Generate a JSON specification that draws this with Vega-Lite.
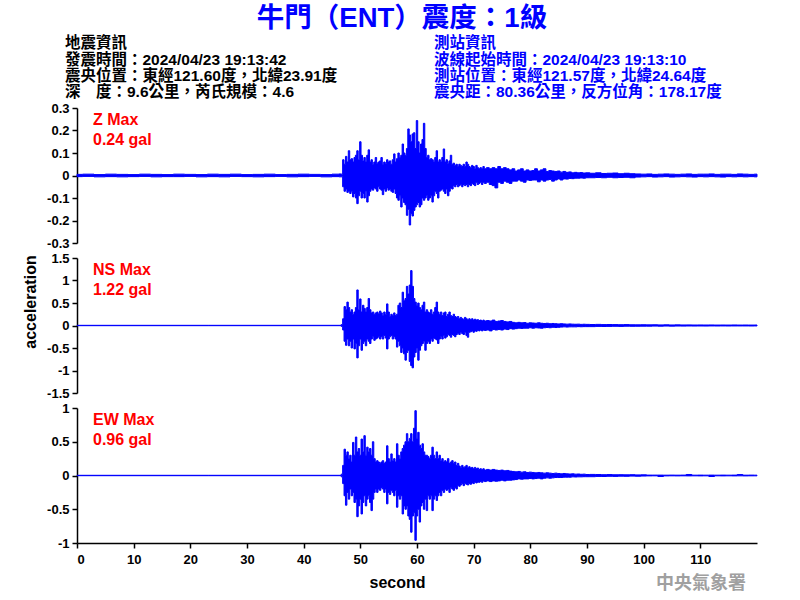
{
"$schema": "https://vega.github.io/schema/vega-lite/v6.json",
"padding": {"left": 22, "top": 4, "right": 5, "bottom": 5},
"config": {
 "view": {"stroke": null},
 "axis": {"labelFont": "Liberation Sans", "labelFontSize": 13, "labelFontWeight": "bold", "labelColor": "black", "domainColor": "black", "tickColor": "black", "domainWidth": 1.5, "tickWidth": 1.5, "tickSize": 5, "labelPadding": 3, "grid": false, "titleFont": "Liberation Sans", "titleFontSize": 16, "titleFontWeight": "bold", "titleColor": "black"}
},
"datasets": {
"z": [
{"t":0,"lo":-0.005,"hi":0.005},{"t":2,"lo":-0.004,"hi":0.006},{"t":4,"lo":-0.006,"hi":0.004},{"t":6,"lo":-0.005,"hi":0.006},{"t":8,"lo":-0.006,"hi":0.005},{"t":10,"lo":-0.005,"hi":0.004},{"t":12,"lo":-0.004,"hi":0.006},{"t":14,"lo":-0.006,"hi":0.005},{"t":16,"lo":-0.005,"hi":0.004},{"t":18,"lo":-0.005,"hi":0.006},{"t":20,"lo":-0.004,"hi":0.005},{"t":22,"lo":-0.006,"hi":0.004},{"t":24,"lo":-0.005,"hi":0.006},{"t":26,"lo":-0.006,"hi":0.005},{"t":28,"lo":-0.004,"hi":0.006},{"t":30,"lo":-0.005,"hi":0.004},{"t":32,"lo":-0.006,"hi":0.005},{"t":34,"lo":-0.005,"hi":0.006},{"t":36,"lo":-0.004,"hi":0.004},{"t":38,"lo":-0.006,"hi":0.005},{"t":40,"lo":-0.005,"hi":0.006},{"t":42,"lo":-0.004,"hi":0.005},{"t":44,"lo":-0.006,"hi":0.004},{"t":46,"lo":-0.005,"hi":0.006},{"t":46.5,"lo":-0.006,"hi":0.007},
{"t":46.75,"lo":-0.006,"hi":0.006},{"t":47,"lo":-0.05,"hi":0.07},{"t":47.25,"lo":-0.07,"hi":0.05},{"t":47.5,"lo":-0.06,"hi":0.085},{"t":47.75,"lo":-0.075,"hi":0.06},{"t":48,"lo":-0.07,"hi":0.11},{"t":48.25,"lo":-0.08,"hi":0.07},{"t":48.5,"lo":-0.07,"hi":0.075},{"t":48.75,"lo":-0.095,"hi":0.06},{"t":49,"lo":-0.08,"hi":0.08},{"t":49.25,"lo":-0.1,"hi":0.09},{"t":49.5,"lo":-0.125,"hi":0.11},{"t":49.75,"lo":-0.09,"hi":0.07},{"t":50,"lo":-0.07,"hi":0.15},{"t":50.25,"lo":-0.1,"hi":0.09},{"t":50.5,"lo":-0.08,"hi":0.065},{"t":50.75,"lo":-0.1,"hi":0.08},{"t":51,"lo":-0.07,"hi":0.06},{"t":51.25,"lo":-0.118,"hi":0.09},{"t":51.5,"lo":-0.09,"hi":0.114},{"t":51.75,"lo":-0.07,"hi":0.06},{"t":52,"lo":-0.06,"hi":0.07},{"t":52.25,"lo":-0.065,"hi":0.05},{"t":52.5,"lo":-0.055,"hi":0.06},{"t":52.75,"lo":-0.06,"hi":0.08},{"t":53,"lo":-0.07,"hi":0.055},{"t":53.25,"lo":-0.05,"hi":0.06},{"t":53.5,"lo":-0.06,"hi":0.065},{"t":53.75,"lo":-0.065,"hi":0.08},{"t":54,"lo":-0.085,"hi":0.05},{"t":54.25,"lo":-0.06,"hi":0.06},{"t":54.5,"lo":-0.07,"hi":0.055},{"t":54.75,"lo":-0.055,"hi":0.07},{"t":55,"lo":-0.065,"hi":0.06},{"t":55.25,"lo":-0.06,"hi":0.065},{"t":55.5,"lo":-0.07,"hi":0.05},{"t":55.75,"lo":-0.075,"hi":0.07},{"t":56,"lo":-0.06,"hi":0.096},{"t":56.25,"lo":-0.08,"hi":0.06},{"t":56.5,"lo":-0.1,"hi":0.075},{"t":56.75,"lo":-0.11,"hi":0.1},{"t":57,"lo":-0.09,"hi":0.08},{"t":57.25,"lo":-0.14,"hi":0.09},{"t":57.5,"lo":-0.1,"hi":0.14},{"t":57.75,"lo":-0.12,"hi":0.1},{"t":58,"lo":-0.13,"hi":0.09},{"t":58.25,"lo":-0.177,"hi":0.12},{"t":58.5,"lo":-0.15,"hi":0.207},{"t":58.75,"lo":-0.22,"hi":0.18},{"t":59,"lo":-0.17,"hi":0.15},{"t":59.25,"lo":-0.18,"hi":0.185},{"t":59.5,"lo":-0.155,"hi":0.19},{"t":59.75,"lo":-0.14,"hi":0.12},{"t":60,"lo":-0.13,"hi":0.244},{"t":60.25,"lo":-0.12,"hi":0.15},{"t":60.5,"lo":-0.14,"hi":0.1},{"t":60.75,"lo":-0.13,"hi":0.14},{"t":61,"lo":-0.1,"hi":0.16},{"t":61.25,"lo":-0.11,"hi":0.232},{"t":61.5,"lo":-0.1,"hi":0.12},{"t":61.75,"lo":-0.09,"hi":0.08},{"t":62,"lo":-0.11,"hi":0.09},{"t":62.25,"lo":-0.1,"hi":0.07},{"t":62.5,"lo":-0.09,"hi":0.075},{"t":62.75,"lo":-0.118,"hi":0.07},{"t":63,"lo":-0.09,"hi":0.06},{"t":63.25,"lo":-0.07,"hi":0.08},{"t":63.5,"lo":-0.08,"hi":0.11},{"t":63.75,"lo":-0.1,"hi":0.06},{"t":64,"lo":-0.07,"hi":0.07},{"t":64.25,"lo":-0.065,"hi":0.06},{"t":64.5,"lo":-0.06,"hi":0.08},{"t":64.75,"lo":-0.07,"hi":0.118},{"t":65,"lo":-0.08,"hi":0.06},{"t":65.25,"lo":-0.06,"hi":0.07},{"t":65.5,"lo":-0.09,"hi":0.055},{"t":65.75,"lo":-0.07,"hi":0.065},{"t":66,"lo":-0.055,"hi":0.09},{"t":66.25,"lo":-0.06,"hi":0.05},{"t":66.5,"lo":-0.045,"hi":0.055},{"t":66.75,"lo":-0.05,"hi":0.045},{"t":67,"lo":-0.04,"hi":0.05},{"t":67.25,"lo":-0.05,"hi":0.04},{"t":67.5,"lo":-0.045,"hi":0.05},{"t":67.75,"lo":-0.04,"hi":0.045},{"t":68,"lo":-0.05,"hi":0.04},{"t":68.25,"lo":-0.04,"hi":0.05},{"t":68.5,"lo":-0.045,"hi":0.04},{"t":68.75,"lo":-0.04,"hi":0.06},{"t":69,"lo":-0.05,"hi":0.05},{"t":69.25,"lo":-0.04,"hi":0.04},{"t":69.5,"lo":-0.045,"hi":0.035},{"t":69.75,"lo":-0.035,"hi":0.045},{"t":70,"lo":-0.04,"hi":0.04},{"t":70.25,"lo":-0.045,"hi":0.03},{"t":70.5,"lo":-0.03,"hi":0.045},{"t":70.75,"lo":-0.04,"hi":0.035},{"t":71,"lo":-0.035,"hi":0.03},{"t":71.25,"lo":-0.03,"hi":0.035},{"t":71.5,"lo":-0.04,"hi":0.03},{"t":71.75,"lo":-0.03,"hi":0.04},{"t":72,"lo":-0.035,"hi":0.03},
{"t":72.5,"lo":-0.03,"hi":0.035},{"t":73,"lo":-0.04,"hi":0.03},{"t":73.5,"lo":-0.045,"hi":0.035},{"t":74,"lo":-0.055,"hi":0.03},{"t":74.5,"lo":-0.03,"hi":0.04},{"t":75,"lo":-0.035,"hi":0.03},{"t":75.5,"lo":-0.025,"hi":0.035},{"t":76,"lo":-0.03,"hi":0.03},{"t":76.5,"lo":-0.035,"hi":0.025},{"t":77,"lo":-0.025,"hi":0.03},{"t":77.5,"lo":-0.025,"hi":0.02},{"t":78,"lo":-0.02,"hi":0.025},{"t":78.5,"lo":-0.025,"hi":0.03},{"t":79,"lo":-0.03,"hi":0.02},{"t":79.5,"lo":-0.02,"hi":0.025},{"t":80,"lo":-0.022,"hi":0.02},{"t":80.5,"lo":-0.02,"hi":0.022},{"t":81,"lo":-0.02,"hi":0.03},{"t":81.5,"lo":-0.028,"hi":0.02},{"t":82,"lo":-0.02,"hi":0.025},{"t":82.5,"lo":-0.025,"hi":0.03},{"t":83,"lo":-0.02,"hi":0.018},{"t":83.5,"lo":-0.018,"hi":0.022},{"t":84,"lo":-0.025,"hi":0.02},{"t":84.5,"lo":-0.02,"hi":0.018},{"t":85,"lo":-0.015,"hi":0.02},{"t":85.5,"lo":-0.02,"hi":0.015},{"t":86,"lo":-0.015,"hi":0.018},{"t":86.5,"lo":-0.016,"hi":0.014},{"t":87,"lo":-0.013,"hi":0.016},{"t":87.5,"lo":-0.014,"hi":0.012},{"t":88,"lo":-0.012,"hi":0.014},{"t":88.5,"lo":-0.012,"hi":0.012},{"t":89,"lo":-0.011,"hi":0.013},{"t":89.5,"lo":-0.012,"hi":0.011},{"t":90,"lo":-0.01,"hi":0.012},
{"t":91,"lo":-0.01,"hi":0.01},{"t":92,"lo":-0.009,"hi":0.012},{"t":93,"lo":-0.01,"hi":0.009},{"t":94,"lo":-0.008,"hi":0.01},{"t":95,"lo":-0.01,"hi":0.011},{"t":96,"lo":-0.009,"hi":0.008},{"t":97,"lo":-0.008,"hi":0.01},{"t":98,"lo":-0.01,"hi":0.008},{"t":99,"lo":-0.007,"hi":0.007},{"t":100,"lo":-0.006,"hi":0.006},{"t":101,"lo":-0.005,"hi":0.007},{"t":102,"lo":-0.007,"hi":0.005},{"t":103,"lo":-0.006,"hi":0.006},{"t":104,"lo":-0.005,"hi":0.007},{"t":105,"lo":-0.007,"hi":0.006},{"t":106,"lo":-0.006,"hi":0.005},{"t":107,"lo":-0.005,"hi":0.006},{"t":108,"lo":-0.006,"hi":0.007},{"t":109,"lo":-0.007,"hi":0.005},{"t":110,"lo":-0.005,"hi":0.006},{"t":111,"lo":-0.006,"hi":0.006},{"t":112,"lo":-0.005,"hi":0.007},{"t":113,"lo":-0.006,"hi":0.005},{"t":114,"lo":-0.007,"hi":0.006},{"t":115,"lo":-0.005,"hi":0.006},{"t":116,"lo":-0.006,"hi":0.005},{"t":117,"lo":-0.005,"hi":0.007},{"t":118,"lo":-0.006,"hi":0.006},{"t":119,"lo":-0.005,"hi":0.005},{"t":120,"lo":-0.006,"hi":0.006}
],
"ns": [
{"t":0,"lo":-0.004,"hi":0.004},{"t":46.5,"lo":-0.004,"hi":0.004},
{"t":46.75,"lo":-0.02,"hi":0.02},{"t":47,"lo":-0.1,"hi":0.15},{"t":47.25,"lo":-0.35,"hi":0.42},{"t":47.5,"lo":-0.44,"hi":0.35},{"t":47.75,"lo":-0.3,"hi":0.52},{"t":48,"lo":-0.45,"hi":0.4},{"t":48.25,"lo":-0.35,"hi":0.3},{"t":48.5,"lo":-0.5,"hi":0.35},{"t":48.75,"lo":-0.3,"hi":0.25},{"t":49,"lo":-0.52,"hi":0.3},{"t":49.25,"lo":-0.4,"hi":0.4},{"t":49.5,"lo":-0.72,"hi":0.79},{"t":49.75,"lo":-0.45,"hi":0.35},{"t":50,"lo":-0.3,"hi":0.59},{"t":50.25,"lo":-0.55,"hi":0.3},{"t":50.5,"lo":-0.4,"hi":0.45},{"t":50.75,"lo":-0.35,"hi":0.38},{"t":51,"lo":-0.45,"hi":0.3},{"t":51.25,"lo":-0.3,"hi":0.4},{"t":51.5,"lo":-0.35,"hi":0.6},{"t":51.75,"lo":-0.4,"hi":0.35},{"t":52,"lo":-0.3,"hi":0.28},{"t":52.25,"lo":-0.25,"hi":0.3},{"t":52.5,"lo":-0.33,"hi":0.25},{"t":52.75,"lo":-0.3,"hi":0.28},{"t":53,"lo":-0.28,"hi":0.3},{"t":53.25,"lo":-0.25,"hi":0.26},{"t":53.5,"lo":-0.3,"hi":0.32},{"t":53.75,"lo":-0.25,"hi":0.28},{"t":54,"lo":-0.3,"hi":0.22},{"t":54.25,"lo":-0.22,"hi":0.3},{"t":54.5,"lo":-0.28,"hi":0.25},{"t":54.75,"lo":-0.52,"hi":0.48},{"t":55,"lo":-0.3,"hi":0.3},{"t":55.25,"lo":-0.25,"hi":0.2},{"t":55.5,"lo":-0.22,"hi":0.25},{"t":55.75,"lo":-0.3,"hi":0.22},{"t":56,"lo":-0.25,"hi":0.28},{"t":56.25,"lo":-0.3,"hi":0.22},{"t":56.5,"lo":-0.48,"hi":0.25},{"t":56.75,"lo":-0.35,"hi":0.45},{"t":57,"lo":-0.45,"hi":0.5},{"t":57.25,"lo":-0.6,"hi":0.4},{"t":57.5,"lo":-0.5,"hi":0.74},{"t":57.75,"lo":-0.63,"hi":0.55},{"t":58,"lo":-0.77,"hi":0.6},{"t":58.25,"lo":-0.6,"hi":0.87},{"t":58.5,"lo":-0.55,"hi":0.7},{"t":58.75,"lo":-0.8,"hi":0.9},{"t":59,"lo":-0.89,"hi":1.22},{"t":59.25,"lo":-0.94,"hi":0.87},{"t":59.5,"lo":-0.7,"hi":0.6},{"t":59.75,"lo":-0.6,"hi":0.52},{"t":60,"lo":-0.5,"hi":0.45},{"t":60.25,"lo":-0.77,"hi":0.5},{"t":60.5,"lo":-0.55,"hi":0.4},{"t":60.75,"lo":-0.45,"hi":0.35},{"t":61,"lo":-0.4,"hi":0.45},{"t":61.25,"lo":-0.35,"hi":0.52},{"t":61.5,"lo":-0.55,"hi":0.3},{"t":61.75,"lo":-0.4,"hi":0.35},{"t":62,"lo":-0.35,"hi":0.3},{"t":62.25,"lo":-0.4,"hi":0.28},{"t":62.5,"lo":-0.3,"hi":0.35},{"t":62.75,"lo":-0.35,"hi":0.25},{"t":63,"lo":-0.28,"hi":0.3},{"t":63.25,"lo":-0.3,"hi":0.4},{"t":63.5,"lo":-0.32,"hi":0.52},{"t":63.75,"lo":-0.4,"hi":0.3},{"t":64,"lo":-0.3,"hi":0.25},{"t":64.25,"lo":-0.25,"hi":0.3},{"t":64.5,"lo":-0.3,"hi":0.22},{"t":64.75,"lo":-0.22,"hi":0.28},{"t":65,"lo":-0.28,"hi":0.3},{"t":65.25,"lo":-0.25,"hi":0.2},{"t":65.5,"lo":-0.2,"hi":0.25},{"t":65.75,"lo":-0.22,"hi":0.3},{"t":66,"lo":-0.26,"hi":0.22},{"t":66.25,"lo":-0.2,"hi":0.2},{"t":66.5,"lo":-0.22,"hi":0.25},{"t":66.75,"lo":-0.25,"hi":0.2},{"t":67,"lo":-0.2,"hi":0.18},{"t":67.25,"lo":-0.18,"hi":0.2},{"t":67.5,"lo":-0.2,"hi":0.15},{"t":67.75,"lo":-0.15,"hi":0.18},{"t":68,"lo":-0.18,"hi":0.15},{"t":68.25,"lo":-0.2,"hi":0.14},{"t":68.5,"lo":-0.15,"hi":0.18},{"t":68.75,"lo":-0.22,"hi":0.15},{"t":69,"lo":-0.26,"hi":0.12},{"t":69.25,"lo":-0.15,"hi":0.15},{"t":69.5,"lo":-0.14,"hi":0.13},{"t":69.75,"lo":-0.12,"hi":0.15},{"t":70,"lo":-0.15,"hi":0.12},{"t":70.25,"lo":-0.12,"hi":0.14},{"t":70.5,"lo":-0.13,"hi":0.12},{"t":70.75,"lo":-0.11,"hi":0.13},{"t":71,"lo":-0.12,"hi":0.11},{"t":71.25,"lo":-0.1,"hi":0.12},{"t":71.5,"lo":-0.12,"hi":0.1},{"t":71.75,"lo":-0.1,"hi":0.12},{"t":72,"lo":-0.11,"hi":0.1},
{"t":72.5,"lo":-0.1,"hi":0.11},{"t":73,"lo":-0.12,"hi":0.1},{"t":73.5,"lo":-0.09,"hi":0.12},{"t":74,"lo":-0.1,"hi":0.09},{"t":74.5,"lo":-0.09,"hi":0.1},{"t":75,"lo":-0.1,"hi":0.11},{"t":75.5,"lo":-0.08,"hi":0.09},{"t":76,"lo":-0.09,"hi":0.08},{"t":76.5,"lo":-0.07,"hi":0.09},{"t":77,"lo":-0.08,"hi":0.07},{"t":77.5,"lo":-0.07,"hi":0.06},{"t":78,"lo":-0.06,"hi":0.07},{"t":78.5,"lo":-0.065,"hi":0.06},{"t":79,"lo":-0.06,"hi":0.065},{"t":79.5,"lo":-0.06,"hi":0.05},{"t":80,"lo":-0.05,"hi":0.06},{"t":80.5,"lo":-0.06,"hi":0.055},{"t":81,"lo":-0.05,"hi":0.05},{"t":81.5,"lo":-0.055,"hi":0.06},{"t":82,"lo":-0.06,"hi":0.05},{"t":82.5,"lo":-0.05,"hi":0.045},{"t":83,"lo":-0.045,"hi":0.05},{"t":83.5,"lo":-0.05,"hi":0.04},{"t":84,"lo":-0.04,"hi":0.045},{"t":84.5,"lo":-0.045,"hi":0.04},{"t":85,"lo":-0.04,"hi":0.035},{"t":85.5,"lo":-0.035,"hi":0.04},{"t":86,"lo":-0.03,"hi":0.035},{"t":86.5,"lo":-0.035,"hi":0.03},{"t":87,"lo":-0.03,"hi":0.035},{"t":87.5,"lo":-0.03,"hi":0.03},{"t":88,"lo":-0.03,"hi":0.028},{"t":88.5,"lo":-0.025,"hi":0.03},{"t":89,"lo":-0.028,"hi":0.025},{"t":89.5,"lo":-0.025,"hi":0.028},{"t":90,"lo":-0.025,"hi":0.025},
{"t":91,"lo":-0.025,"hi":0.022},{"t":92,"lo":-0.02,"hi":0.025},{"t":93,"lo":-0.022,"hi":0.02},{"t":94,"lo":-0.02,"hi":0.022},{"t":95,"lo":-0.018,"hi":0.02},{"t":96,"lo":-0.02,"hi":0.018},{"t":97,"lo":-0.016,"hi":0.02},{"t":98,"lo":-0.018,"hi":0.016},{"t":99,"lo":-0.017,"hi":0.015},{"t":100,"lo":-0.015,"hi":0.017},{"t":101,"lo":-0.015,"hi":0.014},{"t":102,"lo":-0.013,"hi":0.016},{"t":103,"lo":-0.015,"hi":0.013},{"t":104,"lo":-0.012,"hi":0.015},{"t":105,"lo":-0.014,"hi":0.012},{"t":106,"lo":-0.012,"hi":0.014},{"t":107,"lo":-0.013,"hi":0.012},{"t":108,"lo":-0.011,"hi":0.013},{"t":109,"lo":-0.012,"hi":0.011},{"t":110,"lo":-0.011,"hi":0.012},{"t":111,"lo":-0.012,"hi":0.011},{"t":112,"lo":-0.01,"hi":0.012},{"t":113,"lo":-0.011,"hi":0.01},{"t":114,"lo":-0.01,"hi":0.011},{"t":115,"lo":-0.011,"hi":0.01},{"t":116,"lo":-0.01,"hi":0.012},{"t":117,"lo":-0.01,"hi":0.01},{"t":118,"lo":-0.01,"hi":0.011},{"t":119,"lo":-0.011,"hi":0.01},{"t":120,"lo":-0.01,"hi":0.011}
],
"ew": [
{"t":0,"lo":-0.003,"hi":0.003},{"t":46.5,"lo":-0.003,"hi":0.003},
{"t":46.75,"lo":-0.02,"hi":0.02},{"t":47,"lo":-0.12,"hi":0.15},{"t":47.25,"lo":-0.3,"hi":0.39},{"t":47.5,"lo":-0.44,"hi":0.3},{"t":47.75,"lo":-0.25,"hi":0.35},{"t":48,"lo":-0.35,"hi":0.25},{"t":48.25,"lo":-0.2,"hi":0.3},{"t":48.5,"lo":-0.3,"hi":0.2},{"t":48.75,"lo":-0.25,"hi":0.49},{"t":49,"lo":-0.4,"hi":0.3},{"t":49.25,"lo":-0.35,"hi":0.57},{"t":49.5,"lo":-0.61,"hi":0.35},{"t":49.75,"lo":-0.45,"hi":0.4},{"t":50,"lo":-0.35,"hi":0.3},{"t":50.25,"lo":-0.57,"hi":0.54},{"t":50.5,"lo":-0.4,"hi":0.35},{"t":50.75,"lo":-0.3,"hi":0.59},{"t":51,"lo":-0.45,"hi":0.3},{"t":51.25,"lo":-0.35,"hi":0.42},{"t":51.5,"lo":-0.3,"hi":0.35},{"t":51.75,"lo":-0.4,"hi":0.4},{"t":52,"lo":-0.52,"hi":0.3},{"t":52.25,"lo":-0.35,"hi":0.5},{"t":52.5,"lo":-0.25,"hi":0.25},{"t":52.75,"lo":-0.2,"hi":0.2},{"t":53,"lo":-0.25,"hi":0.22},{"t":53.25,"lo":-0.2,"hi":0.2},{"t":53.5,"lo":-0.22,"hi":0.18},{"t":53.75,"lo":-0.18,"hi":0.2},{"t":54,"lo":-0.2,"hi":0.22},{"t":54.25,"lo":-0.25,"hi":0.18},{"t":54.5,"lo":-0.2,"hi":0.2},{"t":54.75,"lo":-0.42,"hi":0.44},{"t":55,"lo":-0.25,"hi":0.25},{"t":55.25,"lo":-0.28,"hi":0.2},{"t":55.5,"lo":-0.22,"hi":0.32},{"t":55.75,"lo":-0.25,"hi":0.22},{"t":56,"lo":-0.3,"hi":0.25},{"t":56.25,"lo":-0.22,"hi":0.2},{"t":56.5,"lo":-0.47,"hi":0.47},{"t":56.75,"lo":-0.3,"hi":0.3},{"t":57,"lo":-0.35,"hi":0.25},{"t":57.25,"lo":-0.3,"hi":0.35},{"t":57.5,"lo":-0.57,"hi":0.4},{"t":57.75,"lo":-0.45,"hi":0.45},{"t":58,"lo":-0.5,"hi":0.5},{"t":58.25,"lo":-0.45,"hi":0.62},{"t":58.5,"lo":-0.6,"hi":0.5},{"t":58.75,"lo":-0.65,"hi":0.55},{"t":59,"lo":-0.84,"hi":0.62},{"t":59.25,"lo":-0.6,"hi":0.5},{"t":59.5,"lo":-0.55,"hi":0.7},{"t":59.75,"lo":-0.96,"hi":0.96},{"t":60,"lo":-0.6,"hi":0.55},{"t":60.25,"lo":-0.5,"hi":0.64},{"t":60.5,"lo":-0.69,"hi":0.45},{"t":60.75,"lo":-0.45,"hi":0.4},{"t":61,"lo":-0.4,"hi":0.47},{"t":61.25,"lo":-0.5,"hi":0.35},{"t":61.5,"lo":-0.35,"hi":0.3},{"t":61.75,"lo":-0.52,"hi":0.3},{"t":62,"lo":-0.3,"hi":0.28},{"t":62.25,"lo":-0.35,"hi":0.25},{"t":62.5,"lo":-0.3,"hi":0.3},{"t":62.75,"lo":-0.52,"hi":0.42},{"t":63,"lo":-0.35,"hi":0.3},{"t":63.25,"lo":-0.3,"hi":0.25},{"t":63.5,"lo":-0.37,"hi":0.35},{"t":63.75,"lo":-0.3,"hi":0.25},{"t":64,"lo":-0.25,"hi":0.3},{"t":64.25,"lo":-0.3,"hi":0.22},{"t":64.5,"lo":-0.22,"hi":0.25},{"t":64.75,"lo":-0.25,"hi":0.2},{"t":65,"lo":-0.2,"hi":0.22},{"t":65.25,"lo":-0.22,"hi":0.2},{"t":65.5,"lo":-0.2,"hi":0.25},{"t":65.75,"lo":-0.25,"hi":0.18},{"t":66,"lo":-0.18,"hi":0.2},{"t":66.25,"lo":-0.2,"hi":0.22},{"t":66.5,"lo":-0.22,"hi":0.18},{"t":66.75,"lo":-0.18,"hi":0.2},{"t":67,"lo":-0.2,"hi":0.15},{"t":67.25,"lo":-0.15,"hi":0.18},{"t":67.5,"lo":-0.16,"hi":0.14},{"t":67.75,"lo":-0.14,"hi":0.12},{"t":68,"lo":-0.12,"hi":0.15},{"t":68.25,"lo":-0.15,"hi":0.12},{"t":68.5,"lo":-0.12,"hi":0.13},{"t":68.75,"lo":-0.13,"hi":0.15},{"t":69,"lo":-0.14,"hi":0.12},{"t":69.25,"lo":-0.12,"hi":0.13},{"t":69.5,"lo":-0.13,"hi":0.11},{"t":69.75,"lo":-0.11,"hi":0.12},{"t":70,"lo":-0.12,"hi":0.1},{"t":70.25,"lo":-0.1,"hi":0.12},{"t":70.5,"lo":-0.11,"hi":0.1},{"t":70.75,"lo":-0.1,"hi":0.11},{"t":71,"lo":-0.1,"hi":0.09},{"t":71.25,"lo":-0.09,"hi":0.1},{"t":71.5,"lo":-0.1,"hi":0.09},{"t":71.75,"lo":-0.08,"hi":0.1},{"t":72,"lo":-0.09,"hi":0.08},
{"t":72.5,"lo":-0.08,"hi":0.09},{"t":73,"lo":-0.09,"hi":0.08},{"t":73.5,"lo":-0.08,"hi":0.09},{"t":74,"lo":-0.085,"hi":0.08},{"t":74.5,"lo":-0.08,"hi":0.075},{"t":75,"lo":-0.07,"hi":0.08},{"t":75.5,"lo":-0.08,"hi":0.07},{"t":76,"lo":-0.07,"hi":0.075},{"t":76.5,"lo":-0.07,"hi":0.065},{"t":77,"lo":-0.065,"hi":0.06},{"t":77.5,"lo":-0.06,"hi":0.055},{"t":78,"lo":-0.05,"hi":0.06},{"t":78.5,"lo":-0.055,"hi":0.05},{"t":79,"lo":-0.05,"hi":0.055},{"t":79.5,"lo":-0.05,"hi":0.045},{"t":80,"lo":-0.045,"hi":0.05},{"t":80.5,"lo":-0.05,"hi":0.045},{"t":81,"lo":-0.045,"hi":0.04},{"t":81.5,"lo":-0.04,"hi":0.045},{"t":82,"lo":-0.05,"hi":0.04},{"t":82.5,"lo":-0.04,"hi":0.035},{"t":83,"lo":-0.035,"hi":0.04},{"t":83.5,"lo":-0.04,"hi":0.035},{"t":84,"lo":-0.035,"hi":0.03},{"t":84.5,"lo":-0.03,"hi":0.035},{"t":85,"lo":-0.03,"hi":0.03},{"t":85.5,"lo":-0.03,"hi":0.025},{"t":86,"lo":-0.025,"hi":0.03},{"t":86.5,"lo":-0.025,"hi":0.025},{"t":87,"lo":-0.025,"hi":0.022},{"t":87.5,"lo":-0.02,"hi":0.025},{"t":88,"lo":-0.022,"hi":0.02},{"t":88.5,"lo":-0.02,"hi":0.022},{"t":89,"lo":-0.02,"hi":0.018},{"t":89.5,"lo":-0.018,"hi":0.02},{"t":90,"lo":-0.018,"hi":0.015},
{"t":91,"lo":-0.018,"hi":0.016},{"t":92,"lo":-0.014,"hi":0.015},{"t":93,"lo":-0.015,"hi":0.012},{"t":94,"lo":-0.012,"hi":0.014},{"t":95,"lo":-0.013,"hi":0.011},{"t":96,"lo":-0.01,"hi":0.012},{"t":97,"lo":-0.012,"hi":0.01},{"t":98,"lo":-0.009,"hi":0.012},{"t":99,"lo":-0.011,"hi":0.009},{"t":100,"lo":-0.008,"hi":0.01},{"t":101,"lo":-0.006,"hi":0.006},{"t":102,"lo":-0.005,"hi":0.006},{"t":103,"lo":-0.015,"hi":0.006},{"t":104,"lo":-0.006,"hi":0.005},{"t":105,"lo":-0.005,"hi":0.006},{"t":106,"lo":-0.006,"hi":0.005},{"t":107,"lo":-0.005,"hi":0.006},{"t":108,"lo":-0.006,"hi":0.015},{"t":109,"lo":-0.005,"hi":0.005},{"t":110,"lo":-0.006,"hi":0.006},{"t":111,"lo":-0.005,"hi":0.005},{"t":112,"lo":-0.015,"hi":0.006},{"t":113,"lo":-0.005,"hi":0.005},{"t":114,"lo":-0.006,"hi":0.006},{"t":115,"lo":-0.005,"hi":0.005},{"t":116,"lo":-0.006,"hi":0.006},{"t":117,"lo":-0.005,"hi":0.014},{"t":118,"lo":-0.006,"hi":0.005},{"t":119,"lo":-0.005,"hi":0.006},{"t":120,"lo":-0.005,"hi":0.005}
]
},
"title": {"text": "中央氣象署", "orient": "bottom", "anchor": "end", "frame": "bounds", "color": "#A0A0A0", "fontSize": 18, "fontWeight": "bold", "font": "Noto Sans CJK TC", "dx": -13, "offset": -15},
"bounds": "flush",
"spacing": 15,
"vconcat": [
 {
  "title": {"text": "牛門（ENT）震度：1級", "color": "#0000FF", "fontSize": 27.5, "fontWeight": "bold", "font": "Liberation Sans, Noto Sans CJK TC", "anchor": "middle", "frame": "bounds", "dx": -9, "offset": 4},
  "bounds": "flush",
  "spacing": 0,
  "hconcat": [
   {"width": 355, "height": 1, "data": {"values": []}, "mark": "point", "encoding": {},
    "title": {"text": ["地震資訊", "發震時間：2024/04/23 19:13:42", "震央位置：東經121.60度，北緯23.91度", "深　度：9.6公里，芮氏規模：4.6"], "color": "black", "fontSize": 15.5, "fontWeight": "bold", "font": "Liberation Sans, Noto Sans CJK TC", "lineHeight": 16.2, "anchor": "start", "frame": "group", "dx": -12, "offset": -7.5}},
   {"width": 325, "height": 1, "data": {"values": []}, "mark": "point", "encoding": {},
    "title": {"text": ["測站資訊", "波線起始時間：2024/04/23 19:13:10", "測站位置：東經121.57度，北緯24.64度", "震央距：80.36公里，反方位角：178.17度"], "color": "#0000FF", "fontSize": 15.5, "fontWeight": "bold", "font": "Liberation Sans, Noto Sans CJK TC", "lineHeight": 16.2, "anchor": "start", "frame": "group", "dx": 2, "offset": -7.5}}
  ]
 },
 {
  "width": 680, "height": 135,
  "data": {"name": "z"},
  "title": {"text": ["Z Max", "0.24 gal"], "color": "#FF0000", "fontSize": 16, "fontWeight": "bold", "font": "Liberation Sans", "lineHeight": 20, "anchor": "start", "frame": "group", "dx": 16, "offset": -46},
  "mark": {"type": "area", "interpolate": "step", "color": "#0000FF", "stroke": "#0000FF", "strokeWidth": 1, "opacity": 1},
  "encoding": {
   "x": {"field": "t", "type": "quantitative", "scale": {"domain": [0, 120]}, "axis": null},
   "y": {"field": "lo", "type": "quantitative", "scale": {"domain": [-0.3, 0.3]}, "axis": {"values": [-0.3, -0.2, -0.1, 0, 0.1, 0.2, 0.3], "labelExpr": "toString(datum.value)", "title": null}},
   "y2": {"field": "hi"}
  }
 },
 {
  "width": 680, "height": 135,
  "data": {"name": "ns"},
  "title": {"text": ["NS Max", "1.22 gal"], "color": "#FF0000", "fontSize": 16, "fontWeight": "bold", "font": "Liberation Sans", "lineHeight": 20, "anchor": "start", "frame": "group", "dx": 16, "offset": -46},
  "mark": {"type": "area", "interpolate": "step", "color": "#0000FF", "stroke": "#0000FF", "strokeWidth": 1, "opacity": 1},
  "encoding": {
   "x": {"field": "t", "type": "quantitative", "scale": {"domain": [0, 120]}, "axis": null},
   "y": {"field": "lo", "type": "quantitative", "scale": {"domain": [-1.5, 1.5]}, "axis": {"values": [-1.5, -1, -0.5, 0, 0.5, 1, 1.5], "labelExpr": "toString(datum.value)", "title": "acceleration", "titleY": 43.5, "titlePadding": 8}},
   "y2": {"field": "hi"}
  }
 },
 {
  "width": 680, "height": 135,
  "data": {"name": "ew"},
  "title": {"text": ["EW Max", "0.96 gal"], "color": "#FF0000", "fontSize": 16, "fontWeight": "bold", "font": "Liberation Sans", "lineHeight": 20, "anchor": "start", "frame": "group", "dx": 16, "offset": -46},
  "mark": {"type": "area", "interpolate": "step", "color": "#0000FF", "stroke": "#0000FF", "strokeWidth": 1, "opacity": 1},
  "encoding": {
   "x": {"field": "t", "type": "quantitative", "scale": {"domain": [0, 120]}, "axis": {"values": [0, 10, 20, 30, 40, 50, 60, 70, 80, 90, 100, 110], "labelExpr": "toString(datum.value)", "labelPadding": 5, "title": "second", "titleX": 320, "titlePadding": 8}},
   "y": {"field": "lo", "type": "quantitative", "scale": {"domain": [-1, 1]}, "axis": {"values": [-1, -0.5, 0, 0.5, 1], "labelExpr": "toString(datum.value)", "title": null}},
   "y2": {"field": "hi"}
  }
 }
]
}
